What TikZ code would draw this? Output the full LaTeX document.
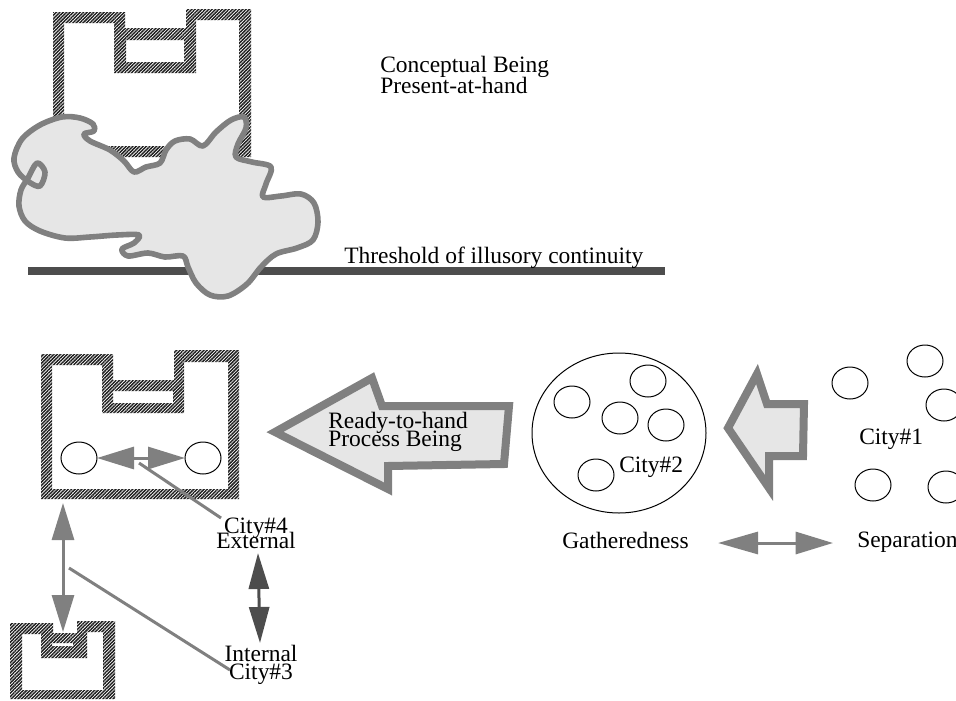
\documentclass[tikz,border=0pt]{standalone}
\usepackage{fontspec}
\setmainfont{Liberation Serif}
\usetikzlibrary{patterns.meta,arrows.meta,shapes.geometric}
\definecolor{mgray}{HTML}{808080}
\definecolor{dgray}{HTML}{4D4D4D}
\definecolor{lgray}{HTML}{E6E6E6}
\tikzset{
  hatch/.style={pattern={Lines[angle=45,distance=1.8pt,line width=1.1pt]},pattern color=black!88,even odd rule},
  cloudline/.style={draw=mgray,line width=4.2pt,fill=lgray,line join=round},
  bigarrow/.style={draw=mgray,line width=6pt,fill=lgray,line join=miter,miter limit=10},
  city/.style={draw=black,ellipse,line width=0.75pt,minimum width=27pt,minimum height=24pt,inner sep=0pt,outer sep=0pt},
  bigcity/.style={draw=black,ellipse,line width=0.75pt,minimum width=130.5pt,minimum height=120pt,inner sep=0pt},
  lbl/.style={inner sep=0pt,font=\fontsize{17.6pt}{15pt}\selectfont},
  connector/.style={draw=mgray,line width=2.25pt},
  dblgray/.style={draw=mgray,line width=2.25pt,{Triangle[length=27.75pt,width=16.5pt]}-{Triangle[length=27.75pt,width=16.5pt]}},
  dbldark/.style={draw=dgray,line width=2.25pt,{Triangle[length=27pt,width=15pt]}-{Triangle[length=27pt,width=15pt]}},
  dblwide/.style={draw=mgray,line width=2.25pt,{Triangle[length=30pt,width=16.5pt]}-{Triangle[length=28pt,width=16.5pt]}}
}
\begin{document}
\lineskiplimit=-100pt
\begin{tikzpicture}[x=0.75pt,y=-0.75pt]
\useasboundingbox (0,0) rectangle (956,700);

% ---------- top building ----------
\fill[hatch] (53,12)--(125,12)--(125,28)--(186,28)--(186,9)--(251,9)--(251,157)--(53,157)--cycle
  (64,23)--(114,23)--(114,73)--(196,73)--(196,20)--(239,20)--(239,146)--(64,146)--cycle
  (126,40) rectangle (184,62);

% threshold line
\coordinate (thrA) at (28,271);
\coordinate (thrB) at (665,271);
\draw[dgray,line width=5.6pt] (thrA) -- (thrB);

% cloud
\path[cloudline] plot[smooth cycle,tension=0.55] coordinates {
 (14,158) (22,139) (40,125) (62,117) (80,118) (93,124) (94,131) (84,134) (90,141)
 (110,150) (124,161) (134,172) (146,167) (160,163) (166,150) (175,141) (190,139)
 (203,146) (216,132) (231,120) (244,117) (246,128) (238,144) (236,157) (252,162)
 (271,167) (266,184) (263,197) (281,196) (301,194) (314,203) (318,222) (313,240)
 (297,248) (276,254) (261,267) (247,284) (228,296) (210,295) (196,283) (188,267)
 (183,256) (165,257) (148,253) (128,256) (122,249) (134,243) (139,235) (117,235)
 (90,237) (65,238) (40,231) (25,221) (19,206) (21,190) (28,178) (37,163) (45,172)
 (40,186) (29,182) (18,172)};

\node[lbl,anchor=base west,align=left,font=\fontsize{17.6pt}{15.75pt}\selectfont] (concept) at (380,93) {Conceptual Being\\Present-at-hand};
\node[lbl,anchor=base west] (thresh) at (344,263) {Threshold of illusory continuity};

% ---------- middle building ----------
\fill[hatch] (41,354)--(113,354)--(113,380)--(174,380)--(174,350)--(239,350)--(239,499)--(41,499)--cycle
  (52,365)--(102,365)--(102,413)--(184,413)--(184,362)--(228,362)--(228,489)--(52,489)--cycle
  (113,391) rectangle (173,403);
\node[city] (ca) at (79,458) {};
\node[city] (cb) at (203,458) {};
\draw[dblgray] (ca) -- (cb);

% ---------- bottom building ----------
\fill[hatch] (10,623)--(53,623)--(53,633)--(77,633)--(77,621)--(115,621)--(115,699)--(10,699)--cycle
  (22,634)--(41,634)--(41,658)--(87,658)--(87,632)--(103,632)--(103,690)--(22,690)--cycle
  (52,643) rectangle (73,646);

% vertical arrow between buildings
\coordinate (vA) at (63,503);
\coordinate (vB) at (63,632);
\draw[dblgray] (vA) -- (vB);

% labels City#4 / Internal
\node[lbl,anchor=base,align=center,font=\fontsize{17.6pt}{11.25pt}\selectfont] (ext) at (256,548) {City\#4\\External};
\node[lbl,anchor=base,align=center,font=\fontsize{17.6pt}{13.5pt}\selectfont] (int) at (261,679) {Internal\\City\#3};
\coordinate (l4a) at (139,463);
\coordinate (l4b) at (221,518);
\draw[connector] (l4a) -- (l4b);
\coordinate (l3a) at (69,568);
\coordinate (l3b) at (230,670);
\draw[connector] (l3a) -- (l3b);
\coordinate (dA) at (258,553);
\coordinate (dB) at (260,643);
\draw[dbldark] (dA) -- (dB);

% ---------- big arrow ----------
\draw[bigarrow] (275,432) -- (372,378) -- (382,406) -- (509,406) -- (504,464) -- (388,466) -- (388,489) -- cycle;
\node[lbl,anchor=base west,align=left,font=\fontsize{17.6pt}{13.5pt}\selectfont] (ready) at (328,446) {Ready-to-hand\\Process Being};

% ---------- gatheredness ----------
\node[bigcity] (gath) at (619,433) {};
\node[city] (g1) at (572,402) {};
\node[city] (g2) at (648,381) {};
\node[city] (g3) at (620,418) {};
\node[city] (g4) at (666,425) {};
\node[city] (g5) at (596,475) {};
\node[lbl,anchor=base west] (c2) at (619,472) {City\#2};

% medium arrow
\draw[bigarrow] (728,428) -- (757,374) -- (767,404) -- (804,404) -- (803,456) -- (769,456) -- (769,488) -- cycle;

% ---------- separation ----------
\node[city] (s1) at (850,383) {};
\node[city] (s2) at (925,361) {};
\node[city] (s3) at (944,405) {};
\node[city] (s4) at (873,485) {};
\node[city] (s5) at (946,487) {};
\node[lbl,anchor=base west] (c1) at (859,444) {City\#1};

\node[lbl,anchor=base west] (gl) at (562,548) {Gatheredness};
\node[lbl,anchor=base west] (sl) at (857,547) {Separation};
\coordinate (hA) at (718,543);
\coordinate (hB) at (833,543);
\draw[dblwide] (hA) -- (hB);
\end{tikzpicture}
\end{document}
